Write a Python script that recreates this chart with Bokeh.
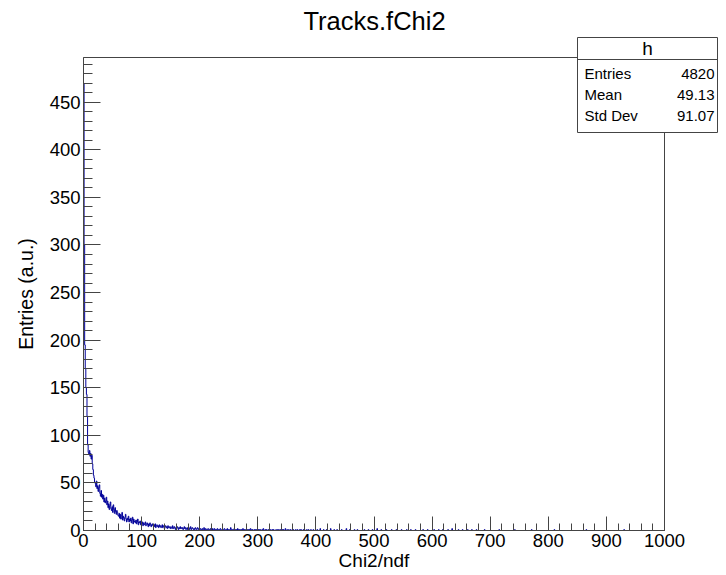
import numpy as np
from bokeh.plotting import figure
from bokeh.models import Range1d, Label, BoxAnnotation, SingleIntervalTicker, LinearAxis
from bokeh.embed import file_html
from bokeh.resources import INLINE

# ---------------- data ----------------
n_bins = 1000
x_min, x_max = 0, 1000
y_max = 497

counts_0_19 = [470, 300, 195, 170, 150, 143, 120, 90, 82, 80,
               84, 78, 81, 75, 79, 70, 64, 58, 55, 50]
counts_20_39 = [50, 46, 52, 44, 47, 41, 45, 48, 39, 36,
                42, 35, 38, 33, 37, 30, 34, 29, 31, 35]
counts_40_59 = [27, 31, 24, 28, 22, 26, 30, 23, 21, 25,
                19, 27, 22, 18, 24, 20, 17, 21, 19, 16]
counts_60_99 = [15, 18, 13, 17, 12, 16, 19, 11, 15, 13,
                10, 14, 17, 12, 9, 13, 11, 15, 9, 12,
                10, 13, 8, 11, 14, 7, 12, 9, 10, 8,
                11, 7, 9, 12, 6, 9, 8, 10, 6, 8]
counts_100_199 = [7, 9, 5, 8, 6, 7, 9, 5, 6, 8,
                  6, 4, 7, 5, 8, 6, 4, 6, 7, 5,
                  5, 6, 4, 7, 3, 5, 6, 4, 5, 3,
                  6, 4, 5, 3, 4, 6, 3, 5, 4, 2,
                  4, 5, 3, 4, 2, 5, 3, 4, 3, 2,
                  4, 3, 2, 5, 3, 2, 4, 3, 1, 3,
                  2, 4, 3, 1, 3, 2, 4, 2, 3, 2,
                  3, 1, 2, 4, 2, 3, 1, 2, 3, 1,
                  2, 3, 1, 2, 4, 1, 2, 3, 2, 1,
                  2, 1, 3, 2, 1, 2, 3, 1, 2, 2]
counts_200_299 = [1, 2, 1, 0, 2, 1, 1, 3, 0, 1,
                  2, 1, 0, 1, 2, 1, 1, 0, 2, 1,
                  1, 0, 2, 1, 1, 2, 0, 1, 1, 0,
                  2, 1, 1, 0, 1, 2, 1, 0, 1, 1,
                  0, 1, 2, 1, 0, 1, 1, 2, 0, 1,
                  1, 0, 1, 3, 1, 0, 1, 1, 0, 2,
                  1, 1, 0, 1, 0, 2, 1, 0, 1, 1,
                  0, 1, 1, 0, 2, 0, 1, 1, 0, 1,
                  1, 0, 1, 1, 0, 1, 0, 2, 1, 0,
                  1, 1, 0, 0, 1, 0, 1, 1, 0, 1]
counts_300_399 = [0, 1, 0, 1, 1, 0, 0, 1, 0, 2,
                  1, 0, 0, 1, 0, 1, 0, 0, 1, 0,
                  1, 0, 1, 0, 0, 1, 0, 1, 0, 0,
                  0, 1, 0, 0, 1, 0, 1, 0, 0, 1,
                  0, 0, 1, 0, 1, 0, 0, 2, 0, 0,
                  1, 0, 0, 1, 0, 0, 1, 0, 0, 1,
                  0, 1, 0, 0, 0, 1, 0, 0, 1, 0,
                  0, 0, 1, 0, 1, 0, 0, 0, 1, 0,
                  1, 0, 0, 0, 1, 0, 0, 1, 0, 0,
                  0, 1, 0, 0, 0, 1, 0, 0, 0, 1]
tail_bins = [402, 407, 413, 418, 425, 431, 436, 444, 452, 458, 466, 471,
             483, 490, 497, 505, 512, 521, 530, 538, 547, 556, 563, 571,
             584, 592, 603, 611, 618, 627, 634, 645, 652, 661, 668, 676,
             690, 715, 742, 771, 810, 865, 930]
tail_counts = [1, 2, 1, 1, 2, 1, 1, 1, 2, 1, 1, 1,
               1, 1, 1, 2, 1, 1, 1, 1, 1, 1, 1, 1,
               1, 1, 1, 1, 1, 1, 2, 1, 1, 1, 1, 1,
               1, 1, 1, 1, 1, 1, 1]

stats_name = "h"
stats_labels = ["Entries", "Mean", "Std Dev"]
stats_values = ["4820", "49.13", "91.07"]

title_text = "Tracks.fChi2"
x_label = "Chi2/ndf"
y_label = "Entries (a.u.)"

# ---------------- build histogram ----------------
head = (counts_0_19 + counts_20_39 + counts_40_59 + counts_60_99 +
        counts_100_199 + counts_200_299 + counts_300_399)
counts = np.zeros(n_bins)
counts[:len(head)] = head
counts[np.array(tail_bins)] = tail_counts

edges = np.linspace(x_min, x_max, n_bins + 1)
xs = np.concatenate([[edges[0]], np.repeat(edges, 2)[1:-1], [edges[-1]]])
ys = np.concatenate([[0], np.repeat(counts, 2), [0]])

# ---------------- layout ----------------
W, H = 726, 575
FL, FR, FT, FB = 83, 664, 57, 530   # pixel box of the drawn ROOT frame
FONT = "Liberation Sans"
AX = "#444444"


def dx(px):
    return (px - FL) / (FR - FL) * (x_max - x_min) + x_min


def dy(py):
    return (FB - py) / (FB - FT) * y_max


# the Bokeh frame covers the whole canvas; the ROOT-style frame is drawn inside
p = figure(width=W, height=H,
           x_range=Range1d(dx(0), dx(W)), y_range=Range1d(dy(H), dy(0)),
           x_axis_type=None, y_axis_type=None,
           output_backend="svg", toolbar_location=None,
           min_border=0, min_border_left=0, min_border_right=0,
           min_border_top=0, min_border_bottom=0)
p.outline_line_color = None
p.background_fill_color = "white"
p.border_fill_color = "white"

p.line(xs, ys, line_color="#000099", line_width=1)

# x axis (fixed at y = 0)
xa = LinearAxis(fixed_location=0, bounds=(x_min, x_max),
                ticker=SingleIntervalTicker(interval=100, num_minor_ticks=5))
xa.major_tick_in = 14
xa.major_tick_out = 0
xa.minor_tick_in = 7
xa.minor_tick_out = 0
xa.major_label_standoff = 3
xa.axis_label = x_label
xa.axis_label_standoff = 0
xa.axis_label_text_font = FONT
xa.axis_label_text_font_size = "19px"
xa.axis_label_text_font_style = "normal"
xa.axis_label_text_color = "black"
xa.major_label_text_font = FONT
xa.major_label_text_font_size = "18.5px"
xa.major_label_text_color = "black"
xa.axis_line_color = AX
xa.major_tick_line_color = AX
xa.minor_tick_line_color = AX
p.add_layout(xa, "below")

# y axis (fixed at x = 0)
ya = LinearAxis(fixed_location=0, bounds=(0, y_max),
                ticker=SingleIntervalTicker(interval=50, num_minor_ticks=5))
ya.major_tick_in = 17
ya.major_tick_out = 0
ya.minor_tick_in = 9
ya.minor_tick_out = 0
ya.major_label_standoff = 3
ya.axis_label = y_label
ya.axis_label_standoff = 10
ya.axis_label_text_font = FONT
ya.axis_label_text_font_size = "19.5px"
ya.axis_label_text_font_style = "normal"
ya.axis_label_text_color = "black"
ya.major_label_text_font = FONT
ya.major_label_text_font_size = "18.5px"
ya.major_label_text_color = "black"
ya.axis_line_color = AX
ya.major_tick_line_color = AX
ya.minor_tick_line_color = AX
p.add_layout(ya, "left")

# frame outline
p.add_layout(BoxAnnotation(left=x_min, right=x_max, bottom=0, top=y_max,
                           fill_alpha=0.0, line_color=AX, line_width=1,
                           line_alpha=1.0))

# title
p.add_layout(Label(x=dx(374), y=dy(20), text=title_text, text_align="center",
                   text_baseline="middle", text_font=FONT,
                   text_font_size="25.5px", text_color="black"))

# ---------------- stats box ----------------
BL, BR, BT, BB, BD = 577, 717, 37, 132, 59
p.add_layout(BoxAnnotation(left=dx(BL), right=dx(BR), top=dy(BT), bottom=dy(BB),
                           fill_color="white", fill_alpha=1.0,
                           line_color=AX, line_width=1, line_alpha=1.0))
p.add_layout(BoxAnnotation(left=dx(BL), right=dx(BR), top=dy(BD), bottom=dy(BD),
                           fill_alpha=0.0, line_color=AX, line_width=1,
                           line_alpha=1.0))
p.add_layout(Label(x=dx((BL + BR) / 2), y=dy((BT + BD) / 2), text=stats_name,
                   text_align="center", text_baseline="middle",
                   text_font=FONT, text_font_size="19px", text_color="black"))
row_y = [73, 94, 115]
for lab, val, ry in zip(stats_labels, stats_values, row_y):
    p.add_layout(Label(x=dx(584), y=dy(ry), text=lab, text_align="left",
                       text_baseline="middle", text_font=FONT,
                       text_font_size="15px", text_color="black"))
    p.add_layout(Label(x=dx(714), y=dy(ry), text=val, text_align="right",
                       text_baseline="middle", text_font=FONT,
                       text_font_size="15px", text_color="black"))

open("out.html", "w").write(file_html(p, INLINE))
